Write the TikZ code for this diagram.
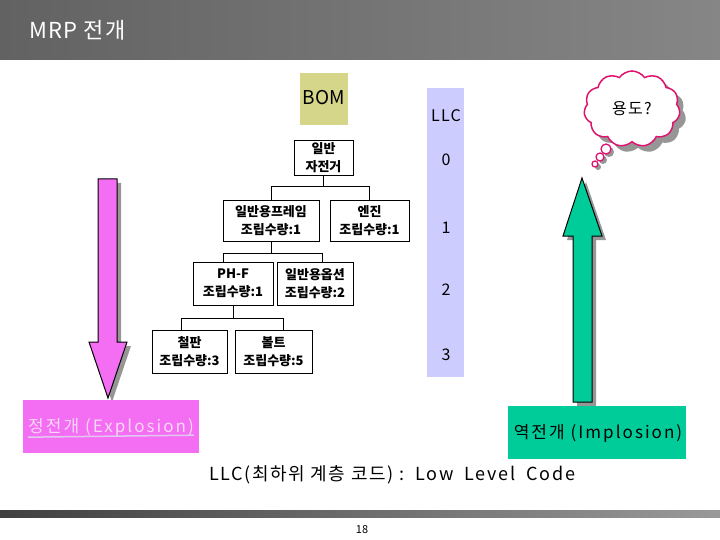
\documentclass[tikz,border=0pt]{standalone}
\usepackage{fontspec}
\setmainfont{Noto Sans CJK KR}
\usetikzlibrary{shapes.symbols,calc}
\definecolor{hdrL}{RGB}{98,98,98}
\definecolor{hdrR}{RGB}{134,134,134}
\definecolor{bomc}{RGB}{214,214,138}
\definecolor{llcc}{RGB}{204,204,255}
\definecolor{pinkc}{RGB}{243,110,243}
\definecolor{greenc}{RGB}{0,204,153}
\definecolor{cloudc}{RGB}{222,20,110}
\definecolor{shad}{RGB}{150,150,150}
\definecolor{exptext}{RGB}{250,215,250}
\definecolor{expline}{RGB}{225,200,240}
\newcommand{\ls}[1]{\addfontfeature{LetterSpace=#1}}
\tikzset{
  treebox/.style={draw=black, line width=0.8pt, fill=white, align=center, inner sep=1pt,
    font=\fontsize{13}{18}\selectfont\bfseries},
  llcnum/.style={font=\fontsize{16}{18}\selectfont\ls{8}},
  conn/.style={draw=black, line width=0.8pt},
  bubble/.style={circle, draw=cloudc, line width=1.3pt, fill=white, inner sep=0pt},
  bubshad/.style={circle, fill=shad, inner sep=0pt},
}
\begin{document}
\begin{tikzpicture}[x=1pt,y=-1pt]
\useasboundingbox (0,0) rectangle (720,540);
% header
\shade[left color=hdrL, right color=hdrR] (0,0) rectangle (720,60);
\node[anchor=west, text=white, font=\fontsize{22}{24}\selectfont\ls{6}, inner sep=0pt] (title) at (29,30) {MRP 전개};
% bottom bar
\shade[left color=black!75, right color=black!40] (0,510) rectangle (720,517);
\node[font=\fontsize{11}{13}\selectfont, inner sep=0pt] (pageno) at (362,530) {18};
% BOM
\node[fill=bomc, minimum width=48pt, minimum height=52pt, inner sep=0pt, font=\fontsize{19}{22}\selectfont] (bom) at (324,99) {\raisebox{4pt}{BOM}};
% LLC column
\fill[llcc] (427,88) rectangle (464,377);
\node[llcnum] (llc) at (446,116) {LLC};
\node[llcnum] (l0) at (446,160) {0};
\node[llcnum] (l1) at (446,228) {1};
\node[llcnum] (l2) at (446,290) {2};
\node[llcnum] (l3) at (446,355) {3};
% tree
\node[treebox, minimum width=59pt, minimum height=35pt] (root) at (323.5,157.5) {일반\\자전거};
\node[treebox, minimum width=96pt, minimum height=41pt] (frame) at (271,220.5) {일반용프레임\\조립수량:1};
\node[treebox, minimum width=79pt, minimum height=41pt] (engine) at (369.5,220.5) {엔진\\조립수량:1};
\node[treebox, minimum width=80pt, minimum height=43pt] (phf) at (233,283.5) {PH-F\\조립수량:1};
\node[treebox, minimum width=76pt, minimum height=43pt] (option) at (315,283.5) {일반용옵션\\조립수량:2};
\node[treebox, minimum width=75pt, minimum height=43pt] (steel) at (189.5,351.5) {철판\\조립수량:3};
\node[treebox, minimum width=77pt, minimum height=43pt] (bolt) at (273.5,351.5) {볼트\\조립수량:5};
\draw[conn] (root.south) -- ++(0,11) coordinate (j1);
\draw[conn] (j1) -| (frame.north);
\draw[conn] (j1) -| (engine.north);
\draw[conn] (frame.south) -- ++(0,12) coordinate (j2);
\draw[conn] (j2) -| ([xshift=-10pt]phf.north);
\draw[conn] (j2) -| ([xshift=7pt]option.north);
\draw[conn] (phf.south) -- ++(0,13) coordinate (j3);
\draw[conn] (j3) -| ([xshift=-8.5pt]steel.north);
\draw[conn] (j3) -| ([xshift=9.5pt]bolt.north);
% pink arrow (down)
\fill[shad] (102,183) -- (121,183) -- (121,346) -- (131,346) -- (112,402) -- (93,346) -- (102,346) -- cycle;
\filldraw[fill=pinkc, draw=black, line width=1pt] (98,179) -- (117,179) -- (117,342) -- (127,342) -- (108,398) -- (89,342) -- (98,342) -- cycle;
% green arrow (up)
\fill[shad] (577,406) -- (596,406) -- (596,240) -- (606,240) -- (586,182) -- (567,240) -- (577,240) -- cycle;
\filldraw[fill=greenc, draw=black, line width=1pt] (573,402) -- (592,402) -- (592,236) -- (602,236) -- (582,178) -- (563,236) -- (573,236) -- cycle;
% boxes
\node[fill=pinkc, minimum width=176pt, minimum height=53pt, inner sep=0pt] (expl) at (111,426.5) {};
\node[text=exptext, font=\fontsize{17}{19}\selectfont\ls{12}, inner sep=0pt] (expltxt) at (111,427) {정전개 (Explosion)};
\draw[expline, line width=1.5pt] (expltxt.south west) ++(0,1) -- ([yshift=1pt]expltxt.south east);
\node[fill=greenc, minimum width=178pt, minimum height=53pt, inner sep=0pt] (impl) at (597,432.5) {};
\node[font=\fontsize{17}{19}\selectfont\ls{12}, inner sep=0pt] (impltxt) at (598,433) {역전개 (Implosion)};
\node[font=\fontsize{18}{20}\selectfont\ls{9}, inner sep=0pt] (note) at (392,475) {LLC(최하위 계층 코드) :\ \ Low\ \ Level\ \ Code};
% cloud
\node[cloud, cloud puffs=11, cloud puff arc=110, aspect=1.3, fill=shad, minimum width=96pt, minimum height=76pt] (cloudsh) at (638,115) {};
\node[cloud, cloud puffs=11, cloud puff arc=110, aspect=1.3, draw=cloudc, line width=1.5pt, fill=white, minimum width=96pt, minimum height=76pt, font=\fontsize{16}{18}\selectfont\ls{8}] (cloud) at (632,109) {용도?};
\node[bubshad, minimum size=10pt] (s1) at (609,152) {};
\node[bubshad, minimum size=8pt] (s2) at (603,160) {};
\node[bubshad, minimum size=6pt] (s3) at (598,167) {};
\node[bubble, minimum size=10pt] (b1) at (606,149) {};
\node[bubble, minimum size=8pt] (b2) at (600,157) {};
\node[bubble, minimum size=6pt] (b3) at (595,164) {};
\end{tikzpicture}
\end{document}
